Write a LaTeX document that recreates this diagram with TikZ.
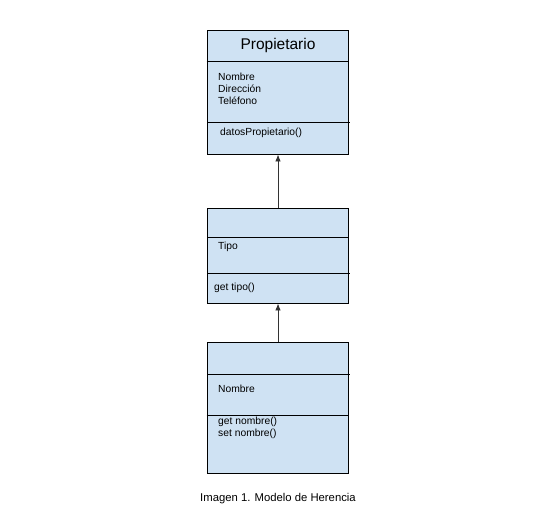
\documentclass[tikz,border=0pt]{standalone}
\usepackage{fontspec}
\setmainfont{Liberation Sans}
\usetikzlibrary{arrows.meta}
\definecolor{boxfill}{HTML}{CFE2F3}
\begin{document}
\begin{tikzpicture}[x=1pt,y=-1pt,
  classbox/.style={draw=black,fill=boxfill,line width=0.9pt,inner sep=0pt,minimum width=141pt},
  divider/.style={draw=black,line width=0.9pt},
  attr/.style={anchor=west,inner sep=0pt,font=\fontsize{10.3}{12}\selectfont,align=left},
  inherit/.style={draw=black!80,line width=0.8pt,-{Latex[length=7pt,width=5.5pt]}}]
\useasboundingbox (0,0) rectangle (548,510);
% boxes
\node[classbox,minimum height=124pt] (b1) at (277.5,92) {};
\node[classbox,minimum height=95pt] (b2) at (278,255.5) {};
\node[classbox,minimum height=131pt] (b3) at (277.5,407.5) {};
% dividers
\draw[divider] (b1.west |- 0,61) -- (b1.east |- 0,61);
\draw[divider] (208,122) -- (350,122);
\draw[divider] (b2.west |- 0,237) -- (b2.east |- 0,237);
\draw[divider] (208,273) -- (350,273);
\draw[divider] (208,374) -- (350,374);
\draw[divider] (b3.west |- 0,415) -- (b3.east |- 0,415);
% texts
\node[inner sep=0pt,font=\fontsize{15.5}{18}\selectfont] (t1) at (278,45) {Propietario};
\node[attr] (a1) at (218,89) {Nombre\\Dirección\\Teléfono};
\node[attr] (m1) at (220,133) {datosPropietario()};
\node[attr] (a2) at (218,247) {Tipo};
\node[attr] (m2) at (214,288) {get tipo()};
\node[attr] (a3) at (218,389) {Nombre};
\node[attr] (m3) at (218,428) {get nombre()\\set nombre()};
\node[inner sep=0pt,font=\fontsize{11.3}{13}\selectfont] (cap) at (278,499) {Imagen 1. Modelo de Herencia};
% inheritance arrows
\draw[inherit] (b2.north -| 278,0) -- (b1.south -| 278,0);
\draw[inherit] (b3.north -| 278,0) -- (b2.south -| 278,0);
\end{tikzpicture}
\end{document}
